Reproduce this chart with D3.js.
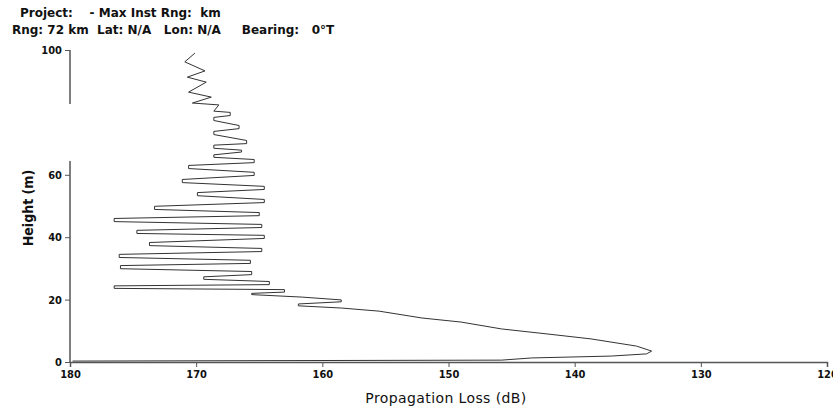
<!DOCTYPE html>
<html>
<head>
<meta charset="utf-8">
<script src="https://cdn.jsdelivr.net/npm/d3@7"></script>
<style>
  body { margin: 0; background: #fff; }
  svg text { font-family: "DejaVu Sans", sans-serif; white-space: pre; }
</style>
</head>
<body>
<svg id="chart" width="833" height="409"></svg>
<script>
////////////
// DATA
////////////

// propagation loss (dB) vs height (m), read top to bottom along the profile
const lossValues = [
  // smooth wiggle near the top
  170.1, 170.9, 169.3, 170.7, 169.2, 170.6, 168.8, 170.3, 168.2, 168.6,
  // interference fringes
  167.3, 167.3, 168.6, 168.6, 166.6, 166.6, 168.6, 168.6, 166.0, 166.0,
  168.6, 168.6, 166.4, 166.4, 168.6, 168.6, 165.4, 165.4, 170.6, 170.6,
  165.4, 165.4, 171.1, 171.1, 164.6, 164.6, 169.9, 169.9, 164.6, 164.6,
  173.3, 173.3, 165.0, 165.0, 176.5, 176.5, 164.8, 164.8, 174.7, 174.7,
  164.6, 164.6, 173.7, 173.7, 164.8, 164.8, 176.1, 176.1, 165.7, 165.7,
  176.0, 176.0, 165.6, 165.6, 169.4, 169.4, 164.2, 164.2, 176.5, 176.5,
  163.0, 163.0, 165.6, 165.6, 161.6, 158.5, 158.5, 161.9, 161.9, 158.5,
  // main lobe
  155.5, 152.1, 149.0, 145.8, 142.2, 138.7, 135.1, 133.9, 134.3, 137.1,
  143.4, 145.8, 179.8
];
const heightValues = [
  99.0, 96.2, 93.3, 91.3, 89.7, 86.5, 84.9, 83.0, 82.4, 80.4,
  80.0, 79.0, 78.4, 77.4, 75.8, 74.8, 73.9, 72.9, 71.0, 70.0,
  69.5, 68.5, 67.9, 67.3, 66.4, 65.6, 64.9, 63.9, 63.0, 62.0,
  60.8, 59.8, 58.5, 57.5, 56.3, 55.3, 54.3, 53.3, 52.1, 51.1,
  49.9, 48.9, 47.9, 46.9, 46.0, 45.0, 44.1, 43.1, 42.2, 41.2,
  40.6, 39.6, 38.3, 37.3, 36.4, 35.4, 34.5, 33.5, 32.6, 31.6,
  30.9, 29.9, 29.0, 28.0, 27.3, 26.5, 25.8, 24.8, 24.4, 23.6,
  23.2, 22.4, 22.0, 21.6, 20.8, 19.9, 19.3, 18.6, 18.0, 17.3,
  16.3, 14.1, 12.8, 10.6, 9.0, 7.4, 5.1, 3.5, 2.6, 1.9,
  1.3, 0.6, 0.3
];

const xTicks = [180, 170, 160, 150, 140, 130, 120];
const yTicks = [0, 20, 40, 60, 100];
// the height axis is drawn in two pieces
const yAxisPieces = [[0, 64.4], [82.7, 100]];

const headerLines = [
  "Project:    - Max Inst Rng:  km",
  "Rng: 72 km  Lat: N/A   Lon: N/A     Bearing:   0\u00B0T"
];

////////////
// SETTINGS
////////////
const svg = d3.select("#chart");
const axisColor = "#555";
const condensed = "DejaVu Sans Condensed, DejaVu Sans, sans-serif";

const x = d3.scaleLinear().domain([180, 120]).range([70, 827]);
const y = d3.scaleLinear().domain([0, 100]).range([362, 50]);

////////////
// DRAWING
////////////

// header text
svg.selectAll(".header")
  .data(headerLines)
  .join("text")
  .attr("class", "header")
  .attr("x", (d, i) => i == 0 ? 20 : 12)
  .attr("y", (d, i) => 17 + i * 17)
  .style("font-size", "12px")
  .style("font-weight", "bold")
  .attr("fill", "#111")
  .text(d => d);

// x axis
const xAxis = svg.append("g")
  .attr("transform", `translate(0,${y(0)})`)
  .call(d3.axisBottom(x).tickValues(xTicks).tickSize(5).tickPadding(3).tickFormat(d3.format("d")));
xAxis.select(".domain").attr("stroke", axisColor).attr("stroke-width", 1.5);
xAxis.selectAll(".tick line").attr("stroke", axisColor);
xAxis.selectAll(".tick text")
  .style("font-family", condensed)
  .style("font-size", "11px")
  .style("font-weight", "bold")
  .attr("fill", "#111");

// y axis
const yAxis = svg.append("g")
  .attr("transform", `translate(${x(180)},0)`)
  .call(d3.axisLeft(y).tickValues(yTicks).tickSize(5).tickPadding(3).tickFormat(d3.format("d")));
yAxis.select(".domain").remove();
yAxis.selectAll(".tick line").attr("stroke", axisColor);
yAxis.selectAll(".tick text")
  .style("font-family", condensed)
  .style("font-size", "11px")
  .style("font-weight", "bold")
  .attr("fill", "#111");

svg.selectAll(".ypiece")
  .data(yAxisPieces)
  .join("line")
  .attr("class", "ypiece")
  .attr("x1", x(180)).attr("x2", x(180))
  .attr("y1", d => y(d[0])).attr("y2", d => y(d[1]))
  .attr("stroke", axisColor)
  .attr("stroke-width", 1.5);

// axis titles
svg.append("text")
  .attr("x", 446)
  .attr("y", 403)
  .attr("text-anchor", "middle")
  .style("font-size", "14px")
  .style("letter-spacing", "0.4px")
  .attr("fill", "#111")
  .text("Propagation Loss (dB)");

svg.append("text")
  .attr("transform", "translate(33,208) rotate(-90)")
  .attr("text-anchor", "middle")
  .style("font-family", condensed)
  .style("font-size", "14px")
  .style("font-weight", "bold")
  .attr("fill", "#111")
  .text("Height (m)");

// profile line
const profile = lossValues.map((v, i) => [v, heightValues[i]]);
const line = d3.line()
  .x(d => x(d[0]))
  .y(d => y(d[1]));

svg.append("path")
  .datum(profile)
  .attr("d", line)
  .attr("fill", "none")
  .attr("stroke", "#333")
  .attr("stroke-width", 1);
</script>
</body>
</html>
